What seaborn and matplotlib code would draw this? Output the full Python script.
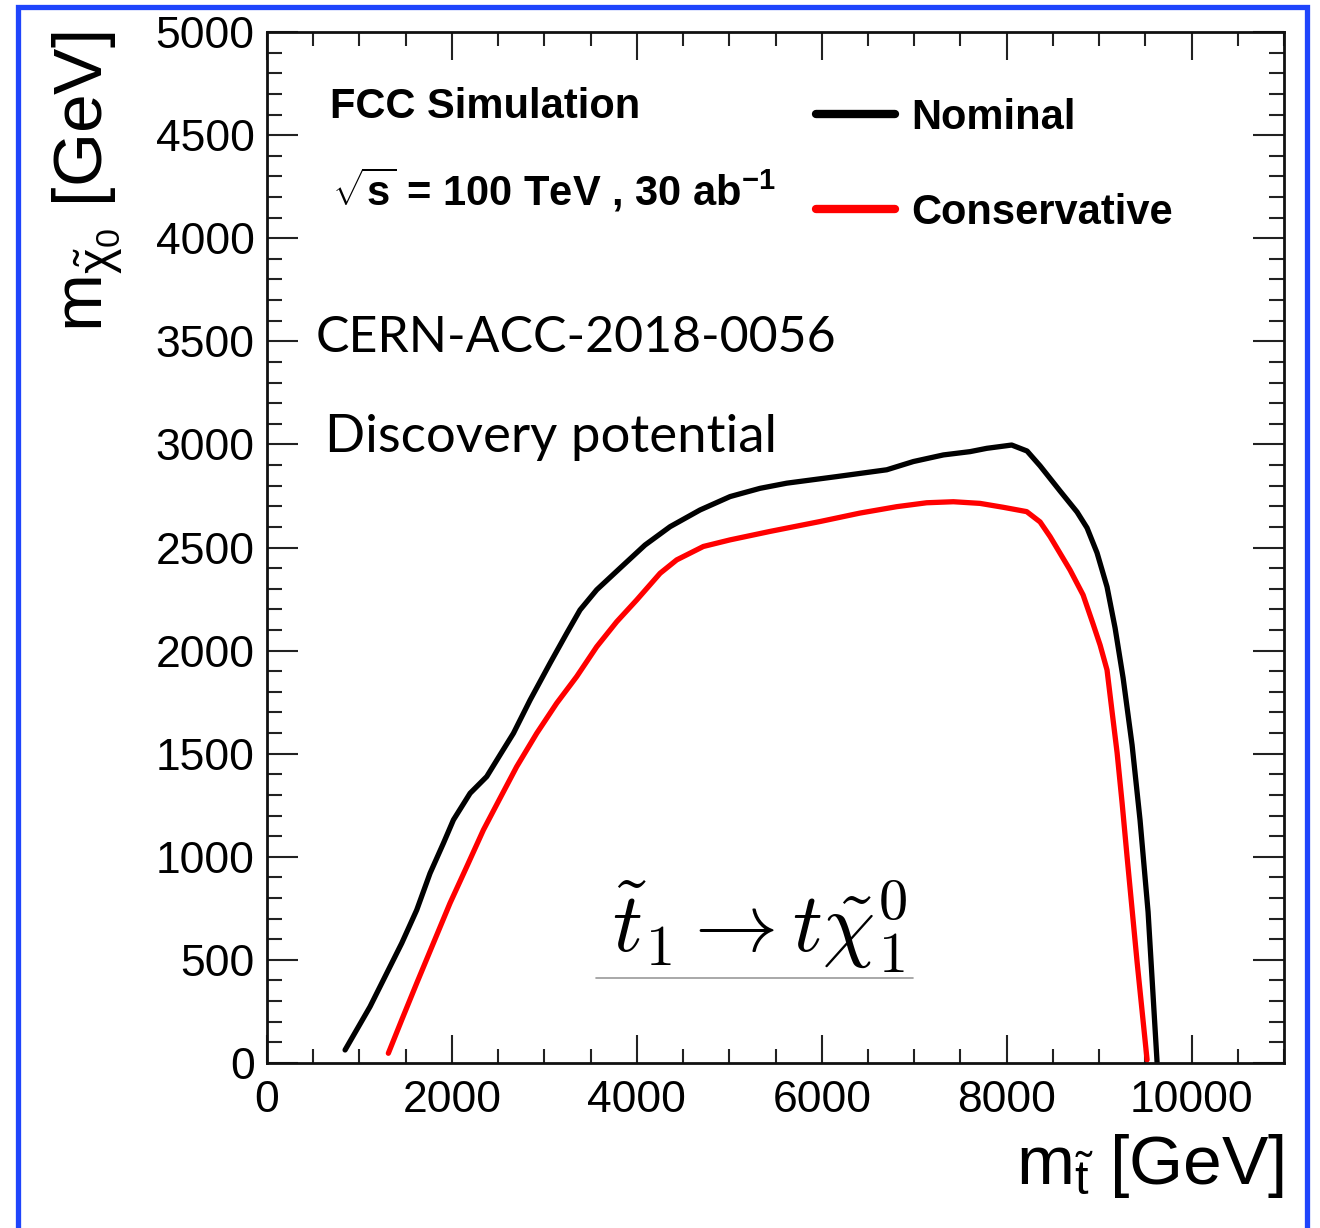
import numpy as np
import pandas as pd
import matplotlib
matplotlib.use('Agg')
import matplotlib.pyplot as plt
import seaborn as sns
from matplotlib.patches import Rectangle
from matplotlib.ticker import MultipleLocator

# contours (m_stop, m_chi) in GeV
nominal_mstop = [844, 1114, 1457, 1619, 1763, 1908, 2016, 2196, 2376, 2520, 2665, 2845,
                 3061, 3241, 3385, 3566, 3818, 4088, 4359, 4683, 5008, 5332, 5621, 6162,
                 6703, 6991, 7315, 7604, 7784, 8054, 8220, 8361, 8577, 8761, 8869, 8977,
                 9085, 9172, 9259, 9356, 9442, 9529, 9626]
nominal_mchi = [63, 273, 581, 742, 920, 1066, 1179, 1308, 1389, 1494, 1599, 1760,
                1939, 2084, 2197, 2295, 2400, 2512, 2601, 2682, 2747, 2787, 2812, 2844,
                2877, 2917, 2949, 2965, 2981, 2997, 2968, 2896, 2774, 2672, 2595, 2474,
                2309, 2110, 1867, 1542, 1178, 732, 5]
cons_mstop = [1312, 1457, 1619, 1799, 1979, 2160, 2340, 2520, 2700, 2917, 3133, 3349,
              3566, 3782, 3999, 4251, 4431, 4719, 5008, 5440, 5981, 6413, 6810, 7134,
              7423, 7711, 7963, 8216, 8361, 8469, 8577, 8685, 8826, 8934, 9010, 9085,
              9140, 9194, 9248, 9302, 9410, 9518]
cons_mchi = [47, 209, 387, 581, 775, 952, 1130, 1284, 1437, 1599, 1745, 1874,
             2019, 2140, 2246, 2375, 2440, 2505, 2537, 2578, 2626, 2667, 2698, 2717,
             2722, 2714, 2695, 2674, 2624, 2553, 2472, 2391, 2270, 2129, 2027, 1906,
             1702, 1504, 1261, 999, 490, 15]

scenarios = ['Nominal', 'Conservative']
colors = {'Nominal': 'black', 'Conservative': '#ff0000'}

df = pd.concat([
    pd.DataFrame({'mstop': nominal_mstop, 'mchi': nominal_mchi, 'scenario': 'Nominal'}),
    pd.DataFrame({'mstop': cons_mstop, 'mchi': cons_mchi, 'scenario': 'Conservative'}),
], ignore_index=True)

sns.set_theme(style='ticks')
plt.rcParams['font.family'] = ['Liberation Sans', 'DejaVu Sans']
plt.rcParams['text.color'] = 'black'
plt.rcParams['axes.labelcolor'] = 'black'
plt.rcParams['mathtext.fontset'] = 'custom'
plt.rcParams['mathtext.rm'] = 'Liberation Sans'
plt.rcParams['mathtext.it'] = 'Liberation Sans:italic'
plt.rcParams['mathtext.bf'] = 'Liberation Sans:bold'

fig = plt.figure(figsize=(13.2, 12.28), dpi=100)
ax = fig.add_axes([0.2023, 0.1344, 0.7705, 0.8395])

sns.lineplot(data=df, x='mstop', y='mchi', hue='scenario', hue_order=scenarios,
             palette=colors, estimator=None, sort=False, linewidth=3.8, ax=ax)

ax.set_xlim(0, 11000)
ax.set_ylim(0, 5000)
ax.xaxis.set_major_locator(MultipleLocator(2000))
ax.xaxis.set_minor_locator(MultipleLocator(500))
ax.yaxis.set_major_locator(MultipleLocator(500))
ax.yaxis.set_minor_locator(MultipleLocator(100))
ax.tick_params(which='both', direction='in', top=True, right=True, width=1.5,
               colors='#222222', labelcolor='black')
ax.tick_params(axis='x', which='major', length=20, pad=12, labelsize=32)
ax.tick_params(axis='x', which='minor', length=10)
ax.tick_params(axis='y', which='major', length=22, pad=9, labelsize=32)
ax.tick_params(axis='y', which='minor', length=11)
for sp in ax.spines.values():
    sp.set_linewidth(2)
    sp.set_color('#111111')

ax.set_xlabel(r'$\mathrm{m_{\tilde{t}}}$ [GeV]', fontsize=50, loc='right', labelpad=8)
ax.set_ylabel(r'$\mathrm{m_{\tilde{\chi}_{0}}}$ [GeV]', fontsize=50, loc='top', labelpad=22)

handles, labels = ax.get_legend_handles_labels()
leg = ax.legend(handles, labels, loc='upper left', bbox_to_anchor=(0.540, 0.936),
                frameon=False, borderpad=0, borderaxespad=0, handlelength=1.9,
                handletextpad=0.37, labelspacing=1.31,
                prop={'size': 30, 'weight': 'bold'})
for ln in leg.get_lines():
    ln.set_linewidth(6)

ax.text(0.062, 0.9166, 'FCC Simulation', transform=ax.transAxes, fontsize=30,
        fontweight='bold', va='baseline')
ax.text(0.064, 0.8322, r'$\mathbf{\sqrt{s}}$ = 100 TeV , 30 ab$^{\mathbf{-1}}$',
        transform=ax.transAxes, fontsize=30, fontweight='bold', va='baseline')
ax.text(0.048, 0.6896, 'CERN-ACC-2018-0056', transform=ax.transAxes, fontsize=36,
        family='Lato', va='baseline')
ax.text(0.057, 0.5926, 'Discovery potential', transform=ax.transAxes, fontsize=38,
        family='Lato', va='baseline')
ax.text(0.339, 0.1077, r'$\tilde{t}_1 \rightarrow t\tilde{\chi}_1^0$', transform=ax.transAxes,
        fontsize=60, math_fontfamily='cm', va='baseline')
ax.plot([0.3235, 0.635], [0.0824, 0.0824], transform=ax.transAxes, color='#999999',
        linewidth=1.2, clip_on=False)

fig.add_artist(Rectangle((0.0133, -0.02), 0.9769, 1.0139, transform=fig.transFigure,
                         fill=False, edgecolor='#1f45fc', linewidth=3.8, clip_on=False))

fig.savefig('out.png', dpi=100)
